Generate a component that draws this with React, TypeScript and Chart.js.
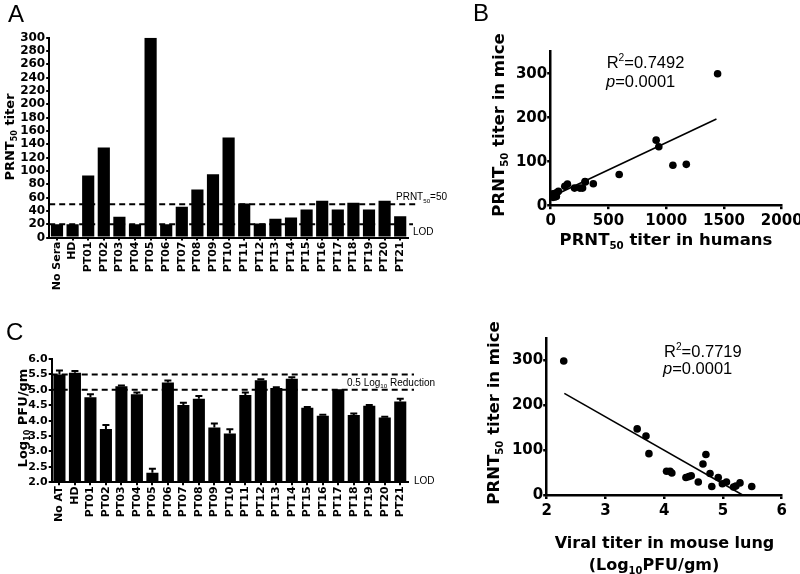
import React, { useEffect, useRef } from "react";
import { Chart, registerables } from "chart.js";
Chart.register(...registerables);

const BOLD = "'DejaVu Sans', sans-serif";
const REG = "'Liberation Sans', Arial, sans-serif";

// ---------- Panel A : PRNT50 titer in mice ----------
const categoriesA = ["No Sera", "HD", "PT01", "PT02", "PT03", "PT04", "PT05", "PT06", "PT07", "PT08", "PT09", "PT10", "PT11", "PT12", "PT13", "PT14", "PT15", "PT16", "PT17", "PT18", "PT19", "PT20", "PT21"];
const titerA = [20, 20, 93, 135, 31, 20, 300, 20, 46, 72, 95, 150, 51, 21, 28, 30, 42, 55, 42, 52, 42, 55, 32];
const yTicksA = [0, 20, 40, 60, 80, 100, 120, 140, 160, 180, 200, 220, 240, 260, 280, 300];
const thresholdA = 50;
const lodA = 20;

// ---------- Panel C : lung viral titer ----------
const categoriesC = ["No AT", "HD", "PT01", "PT02", "PT03", "PT04", "PT05", "PT06", "PT07", "PT08", "PT09", "PT10", "PT11", "PT12", "PT13", "PT14", "PT15", "PT16", "PT17", "PT18", "PT19", "PT20", "PT21"];
const lungC = [5.5, 5.55, 4.76, 3.73, 5.12, 4.86, 2.31, 5.24, 4.51, 4.71, 3.78, 3.58, 4.83, 5.31, 5.06, 5.36, 4.42, 4.16, 5.02, 4.18, 4.48, 4.1, 4.62];
const semC = [0.13, 0.06, 0.1, 0.13, 0.02, 0.05, 0.13, 0.06, 0.07, 0.09, 0.13, 0.14, 0.08, 0.03, 0.02, 0.05, 0.02, 0.03, 0.0, 0.05, 0.03, 0.03, 0.09];
const yTicksC = [2, 2.5, 3, 3.5, 4, 4.5, 5, 5.5, 6];
const reductionLinesC = [5.5, 5.0];
const lodC = 2.0;

// ---------- Panel B : mice vs humans ----------
const humanB = [1445, 913, 936, 1174, 1058, 593, 297, 300, 369, 145, 122, 206, 253, 276, 67, 55, 42, 20, 20, 49, 35];
const miceB = [300, 149, 134, 94, 92, 71, 55, 54, 50, 49, 44, 40, 40, 40, 33, 30, 28, 27, 19, 21, 20];
const fitBx = [20, 1435];
const fitBy = [22, 197];
const xTicksB = [0, 500, 1000, 1500, 2000];
const yTicksB = [0, 100, 200, 300];

// ---------- Panel D : mice vs lung titer ----------
const lungD = [2.29, 3.54, 3.69, 3.74, 4.04, 4.1, 4.13, 4.37, 4.42, 4.46, 4.58, 4.66, 4.71, 4.78, 4.81, 4.92, 4.99, 5.06, 5.18, 5.22, 5.29, 5.49];
const miceD = [299, 148, 132, 93, 54, 54, 50, 40, 42, 44, 30, 70, 91, 49, 20, 40, 26, 30, 19, 21, 28, 20];
const fitDx = [2.3, 5.35];
const fitDy = [227, 0];
const xTicksD = [2, 3, 4, 5, 6];
const yTicksD = [0, 100, 200, 300];

type Seg = { t: string; sub?: boolean; sup?: boolean; it?: boolean };

function drawRich(ctx: CanvasRenderingContext2D, segs: Seg[], x: number, y: number, size: number, family: string, weight: string, align: "left" | "center" = "left", rot = 0) {
  ctx.save();
  ctx.translate(x, y);
  if (rot) ctx.rotate(rot);
  ctx.fillStyle = "#000";
  ctx.textBaseline = "alphabetic";
  ctx.textAlign = "left";
  const f = (s: Seg) => `${s.it ? "italic " : ""}${weight} ${s.sub || s.sup ? size * 0.62 : size}px ${family}`;
  let w = 0;
  for (const s of segs) {
    ctx.font = f(s);
    w += ctx.measureText(s.t).width;
  }
  let cx = align === "center" ? -w / 2 : 0;
  for (const s of segs) {
    ctx.font = f(s);
    const dy = s.sub ? size * 0.25 : s.sup ? -size * 0.4 : 0;
    ctx.fillText(s.t, cx, dy);
    cx += ctx.measureText(s.t).width;
  }
  ctx.restore();
}

const setTicks = (values: number[]) => (scale: any) => {
  scale.ticks = values.map((v) => ({ value: v }));
};

function axis(size: number, tickLen: number, width: number, padding: number) {
  return {
    border: { display: true, color: "#000", width },
    grid: { display: true, drawOnChartArea: false, drawTicks: true, tickLength: tickLen, color: "#000", lineWidth: width, offset: false },
    ticks: { color: "#000", font: { family: BOLD, size, weight: "bold" as const }, padding, autoSkip: false },
  };
}

const baseOptions = {
  responsive: false,
  maintainAspectRatio: false,
  animation: false as const,
  events: [] as any[],
  plugins: { legend: { display: false }, tooltip: { enabled: false }, title: { display: false } },
};

function dashed(ctx: CanvasRenderingContext2D, x1: number, x2: number, y: number) {
  ctx.save();
  ctx.strokeStyle = "#000";
  ctx.lineWidth = 2;
  ctx.setLineDash([6, 4]);
  ctx.beginPath();
  ctx.moveTo(x1, y);
  ctx.lineTo(x2, y);
  ctx.stroke();
  ctx.restore();
}

function makeA(canvas: HTMLCanvasElement) {
  const ax = axis(12, 3, 2, 1);
  const plugin = {
    id: "extrasA",
    afterDatasetsDraw(chart: any) {
      const { ctx, chartArea, scales } = chart;
      const y = scales.y;
      const pT = y.getPixelForValue(thresholdA);
      const pL = y.getPixelForValue(lodA);
      dashed(ctx, chartArea.left, chartArea.right + 10, pT);
      dashed(ctx, chartArea.left, chartArea.right + 5, pL);
      drawRich(ctx, [{ t: "PRNT" }, { t: "50", sub: true }, { t: "=" + thresholdA }], chartArea.right - 12, pT - 4, 10, REG, "normal");
      drawRich(ctx, [{ t: "LOD" }], chartArea.right + 5, pL + 11, 10, REG, "normal");
      drawRich(ctx, [{ t: "PRNT" }, { t: "50", sub: true }, { t: " titer" }], 13.5, 137, 13, BOLD, "bold", "center", -Math.PI / 2);
      drawRich(ctx, [{ t: "A" }], 8, 22, 24, REG, "normal");
    },
  };
  return new Chart(canvas, {
    type: "bar",
    data: {
      labels: categoriesA,
      datasets: [{ data: titerA, backgroundColor: "#000", borderWidth: 0, barPercentage: 0.78, categoryPercentage: 1 }],
    },
    options: {
      ...baseOptions,
      layout: { padding: { left: 0, right: 52, top: 37.7, bottom: 0 } },
      scales: {
        x: { ...ax, ticks: { ...ax.ticks, font: { family: BOLD, size: 11, weight: "bold" }, minRotation: 90, maxRotation: 90 }, afterFit: (s: any) => { s.height = 62.5; } },
        y: { ...ax, min: 0, max: 300, afterBuildTicks: setTicks(yTicksA), ticks: { ...ax.ticks, padding: 1, callback: (v: any) => String(v) }, afterFit: (s: any) => { s.width = 49.2; } },
      },
    } as any,
    plugins: [plugin],
  });
}

function makeC(canvas: HTMLCanvasElement) {
  const ax = axis(11.5, 3, 2, 1);
  const plugin = {
    id: "extrasC",
    afterDatasetsDraw(chart: any) {
      const { ctx, chartArea, scales } = chart;
      const y = scales.y;
      const meta = chart.getDatasetMeta(0);
      ctx.save();
      ctx.strokeStyle = "#000";
      ctx.lineWidth = 2;
      meta.data.forEach((bar: any, i: number) => {
        if (!semC[i]) return;
        const top = y.getPixelForValue(lungC[i] + semC[i]);
        const base = y.getPixelForValue(lungC[i]);
        ctx.beginPath();
        ctx.moveTo(bar.x, base);
        ctx.lineTo(bar.x, top);
        ctx.moveTo(bar.x - 3.5, top);
        ctx.lineTo(bar.x + 3.5, top);
        ctx.stroke();
      });
      ctx.restore();
      reductionLinesC.forEach((v) => dashed(ctx, chartArea.left, chartArea.right + 6, y.getPixelForValue(v)));
      drawRich(ctx, [{ t: "0.5 Log" }, { t: "10", sub: true }, { t: " Reduction" }], chartArea.right - 61, y.getPixelForValue(reductionLinesC[1]) - 4, 10, REG, "normal");
      drawRich(ctx, [{ t: "LOD" }], chartArea.right + 6, y.getPixelForValue(lodC) + 2, 10, REG, "normal");
      drawRich(ctx, [{ t: "Log" }, { t: "10", sub: true }, { t: " PFU/gm" }], 26.5, 118, 13, BOLD, "bold", "center", -Math.PI / 2);
      drawRich(ctx, [{ t: "C" }], 6, 40, 24, REG, "normal");
    },
  };
  return new Chart(canvas, {
    type: "bar",
    data: {
      labels: categoriesC,
      datasets: [{ data: lungC, backgroundColor: "#000", borderWidth: 0, barPercentage: 0.78, categoryPercentage: 1 }],
    },
    options: {
      ...baseOptions,
      layout: { padding: { left: 0, right: 52, top: 59, bottom: 0 } },
      scales: {
        x: { ...ax, ticks: { ...ax.ticks, font: { family: BOLD, size: 11, weight: "bold" }, minRotation: 90, maxRotation: 90 }, afterFit: (s: any) => { s.height = 91.7; } },
        y: { ...ax, min: 2, max: 6, afterBuildTicks: setTicks(yTicksC), ticks: { ...ax.ticks, font: { family: BOLD, size: 11, weight: "bold" }, padding: 1, callback: (v: any) => Number(v).toFixed(1) }, afterFit: (s: any) => { s.width = 51.7; } },
      },
    } as any,
    plugins: [plugin],
  });
}

function makeScatter(canvas: HTMLCanvasElement, opts: any) {
  const ax = axis(15, 3.5, 2.5, 0);
  const plugin = {
    id: "extras" + opts.id,
    afterDatasetsDraw(chart: any) {
      opts.draw(chart.ctx, chart.chartArea);
    },
  };
  return new Chart(canvas, {
    type: "scatter",
    data: {
      datasets: [
        { data: opts.xs.map((x: number, i: number) => ({ x, y: opts.ys[i] })), backgroundColor: "#000", borderWidth: 0, pointRadius: 3.8 },
        { data: opts.fx.map((x: number, i: number) => ({ x, y: opts.fy[i] })), showLine: true, borderColor: "#000", borderWidth: 1.6, pointRadius: 0, fill: false },
      ],
    },
    options: {
      ...baseOptions,
      layout: { padding: { left: 0, right: opts.padRight, top: opts.padTop, bottom: 0 } },
      scales: {
        x: { ...ax, type: "linear", min: opts.xmin, max: opts.xmax, afterBuildTicks: setTicks(opts.xticks), ticks: { ...ax.ticks, padding: 3, callback: (v: any) => String(v) }, afterFit: (s: any) => { s.height = opts.xHeight; } },
        y: { ...ax, type: "linear", min: 0, max: 350, afterBuildTicks: setTicks(opts.yticks), ticks: { ...ax.ticks, padding: 0, callback: (v: any) => String(v) }, afterFit: (s: any) => { s.width = opts.yWidth; } },
      },
    } as any,
    plugins: [plugin],
  });
}

function makeB(canvas: HTMLCanvasElement) {
  return makeScatter(canvas, {
    id: "B",
    xs: humanB, ys: miceB, fx: fitBx, fy: fitBy,
    xmin: 0, xmax: 2000, xticks: xTicksB, yticks: yTicksB,
    padRight: 370 - 341.7, padTop: 51.7, xHeight: 290 - 205.7, yWidth: 110.7,
    draw: (ctx: CanvasRenderingContext2D) => {
      drawRich(ctx, [{ t: "R" }, { t: "2", sup: true }, { t: "=0.7492" }], 166.7, 68, 16.5, REG, "normal");
      drawRich(ctx, [{ t: "p", it: true }, { t: "=0.0001" }], 166, 87, 16.5, REG, "normal");
      drawRich(ctx, [{ t: "PRNT" }, { t: "50", sub: true }, { t: " titer in mice" }], 64, 125, 16.5, BOLD, "bold", "center", -Math.PI / 2);
      drawRich(ctx, [{ t: "PRNT" }, { t: "50", sub: true }, { t: " titer in humans" }], 226, 245, 16.5, BOLD, "bold", "center");
      drawRich(ctx, [{ t: "B" }], 33, 20.5, 24, REG, "normal");
    },
  });
}

function makeD(canvas: HTMLCanvasElement) {
  return makeScatter(canvas, {
    id: "D",
    xs: lungD, ys: miceD, fx: fitDx, fy: fitDy,
    xmin: 2, xmax: 6, xticks: xTicksD, yticks: yTicksD,
    padRight: 370 - 341.7, padTop: 48, xHeight: 284 - 205.5, yWidth: 106.7,
    draw: (ctx: CanvasRenderingContext2D) => {
      drawRich(ctx, [{ t: "R" }, { t: "2", sup: true }, { t: "=0.7719" }], 224, 66.5, 16.5, REG, "normal");
      drawRich(ctx, [{ t: "p", it: true }, { t: "=0.0001" }], 223, 84, 16.5, REG, "normal");
      drawRich(ctx, [{ t: "PRNT" }, { t: "50", sub: true }, { t: " titer in mice" }], 59, 123, 16.5, BOLD, "bold", "center", -Math.PI / 2);
      drawRich(ctx, [{ t: "Viral titer in mouse lung" }], 224.5, 257.7, 16, BOLD, "bold", "center");
      drawRich(ctx, [{ t: "(Log" }, { t: "10", sub: true }, { t: "PFU/gm)" }], 214, 279.5, 16, BOLD, "bold", "center");
    },
  });
}

function Panel({ left, top, width, height, make }: { left: number; top: number; width: number; height: number; make: (c: HTMLCanvasElement) => Chart }) {
  const ref = useRef<HTMLCanvasElement | null>(null);
  useEffect(() => {
    if (!ref.current) return;
    const chart = make(ref.current);
    return () => chart.destroy();
  }, []);
  return (
    <canvas
      ref={ref}
      width={width}
      height={height}
      style={{ position: "absolute", left, top, width, height }}
    />
  );
}

export default function App() {
  return (
    <div style={{ position: "absolute", left: 0, top: 0, width: 800, height: 574, overflow: "hidden", background: "#fff" }}>
      <Panel left={0} top={0} width={460} height={300} make={makeA} />
      <Panel left={0} top={300} width={460} height={274} make={makeC} />
      <Panel left={440} top={0} width={370} height={290} make={makeB} />
      <Panel left={440} top={290} width={370} height={284} make={makeD} />
    </div>
  );
}
